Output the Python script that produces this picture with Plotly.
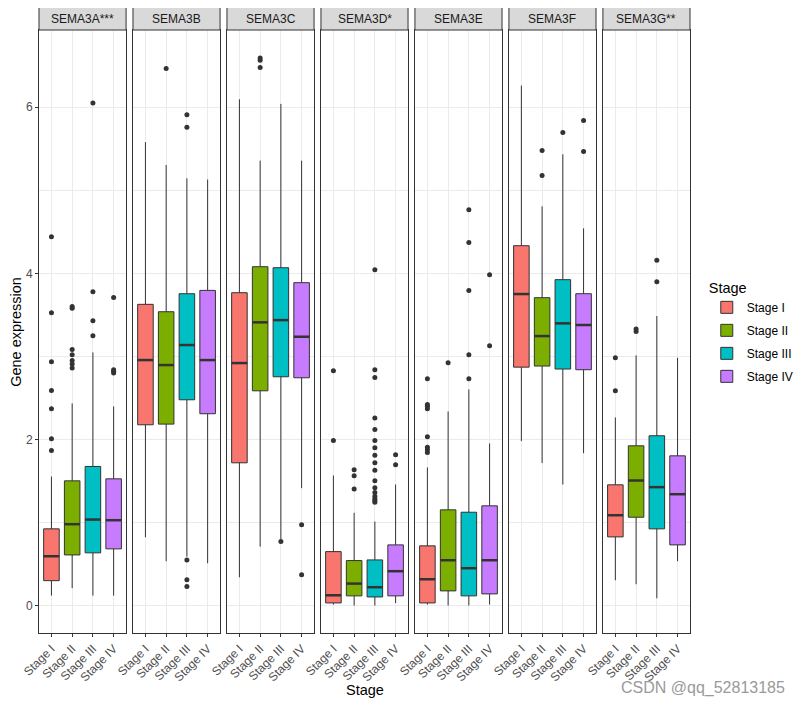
import plotly.graph_objects as go

genes = ["SEMA3A***", "SEMA3B", "SEMA3C", "SEMA3D*", "SEMA3E", "SEMA3F", "SEMA3G**"]
stages = ["Stage I", "Stage II", "Stage III", "Stage IV"]
colors = ["#F8766D", "#7CAE00", "#00BFC4", "#C77CFF"]

# per-gene box statistics (Stage I..IV)
lower = {
    "SEMA3A***": [0.12, 0.21, 0.12, 0.12],
    "SEMA3B": [0.823, 0.534, 0.59, 0.51],
    "SEMA3C": [0.341, 0.71, 0.80, 1.414],
    "SEMA3D*": [0.012, 0.0, 0.0, 0.03],
    "SEMA3E": [0.012, 0.0, 0.0, 0.012],
    "SEMA3F": [1.98, 1.715, 1.458, 1.835],
    "SEMA3G**": [0.305, 0.257, 0.088, 0.534],
}
q1 = {
    "SEMA3A***": [0.30, 0.61, 0.635, 0.683],
    "SEMA3B": [2.177, 2.185, 2.478, 2.31],
    "SEMA3C": [1.719, 2.586, 2.755, 2.743],
    "SEMA3D*": [0.032, 0.117, 0.104, 0.117],
    "SEMA3E": [0.032, 0.177, 0.117, 0.141],
    "SEMA3F": [2.871, 2.884, 2.848, 2.84],
    "SEMA3G**": [0.827, 1.064, 0.924, 0.731],
}
median = {
    "SEMA3A***": [0.594, 0.98, 1.036, 1.028],
    "SEMA3B": [2.956, 2.896, 3.137, 2.956],
    "SEMA3C": [2.92, 3.41, 3.437, 3.237],
    "SEMA3D*": [0.124, 0.265, 0.221, 0.414],
    "SEMA3E": [0.317, 0.546, 0.45, 0.546],
    "SEMA3F": [3.751, 3.245, 3.398, 3.378],
    "SEMA3G**": [1.088, 1.506, 1.426, 1.341],
}
q3 = {
    "SEMA3A***": [0.924, 1.502, 1.675, 1.526],
    "SEMA3B": [3.627, 3.538, 3.755, 3.795],
    "SEMA3C": [3.767, 4.08, 4.068, 3.888],
    "SEMA3D*": [0.65, 0.542, 0.55, 0.731],
    "SEMA3E": [0.719, 1.153, 1.124, 1.201],
    "SEMA3F": [4.333, 3.707, 3.924, 3.755],
    "SEMA3G**": [1.454, 1.924, 2.045, 1.803],
}
upper = {
    "SEMA3A***": [1.554, 2.434, 3.048, 2.398],
    "SEMA3B": [5.58, 5.305, 5.145, 5.13],
    "SEMA3C": [6.096, 5.357, 6.04, 5.357],
    "SEMA3D*": [1.566, 1.117, 1.012, 1.458],
    "SEMA3E": [1.663, 2.337, 2.602, 1.952],
    "SEMA3F": [6.261, 4.807, 5.434, 4.542],
    "SEMA3G**": [2.265, 3.012, 3.486, 2.984],
}
outliers = {
    "SEMA3A***": [[1.867, 2.008, 2.37, 2.59, 2.936, 3.526, 4.44],
                  [2.86, 2.91, 2.95, 3.02, 3.084, 3.58, 3.6],
                  [3.249, 3.43, 3.78, 6.05],
                  [2.80, 2.82, 2.84, 3.71]],
    "SEMA3B": [[], [6.466], [0.23, 0.31, 0.55, 5.76, 5.91], []],
    "SEMA3C": [[], [6.478, 6.566, 6.594], [0.771], [0.37, 0.972]],
    "SEMA3D*": [[1.988, 2.827],
                [1.405, 1.562, 1.635],
                [1.245, 1.265, 1.285, 1.317, 1.361, 1.418, 1.502, 1.63, 1.719,
                 1.811, 1.90, 1.988, 2.12, 2.26, 2.747, 2.84, 4.044],
                [1.695, 1.815]],
    "SEMA3E": [[1.843, 1.876, 1.907, 2.032, 2.37, 2.40, 2.42, 2.731],
               [2.924],
               [2.731, 3.02, 3.795, 4.373, 4.767],
               [3.129, 3.984]],
    "SEMA3F": [[], [5.177, 5.478], [5.695], [5.466, 5.84]],
    "SEMA3G**": [[2.586, 2.984], [3.30, 3.33], [3.9, 4.157], []],
}
y_ticks = [0, 2, 4, 6]

# ---------------- layout geometry ----------------
OFF = 8                      # page body margin offset
W, H = 811 - OFF, 706 - OFF
L, R, T, B = 39 - OFF, 112, 30 - OFF, 73
PW = W - L - R
PH = H - T - B


def fx(sx):   # screen x -> paper fraction
    return (sx - OFF - L) / PW


def fy(sy):   # screen y -> paper fraction
    return 1 - (sy - OFF - T) / PH


gap = 7 / PW
pw = (1 - 6 * gap) / 7
strip_h = 23 / PH
box_w = 0.75
FONT = "Liberation Sans, Arial, sans-serif"

fig = go.Figure()
shapes = []
annotations = []
layout_axes = {}

for i, g in enumerate(genes):
    xa = "x" if i == 0 else f"x{i+1}"
    ya = "y" if i == 0 else f"y{i+1}"
    xkey = "xaxis" if i == 0 else f"xaxis{i+1}"
    ykey = "yaxis" if i == 0 else f"yaxis{i+1}"
    d0 = max(0.0, min(1.0, i * (pw + gap)))
    d1 = max(0.0, min(1.0, i * (pw + gap) + pw))

    for s in range(4):
        fig.add_trace(go.Box(
            x=[s], q1=[q1[g][s]], median=[median[g][s]], q3=[q3[g][s]],
            lowerfence=[lower[g][s]], upperfence=[upper[g][s]],
            width=box_w, fillcolor=colors[s],
            line=dict(color="#333333", width=1), whiskerwidth=0,
            boxpoints=False, name=stages[s], legendgroup=stages[s],
            showlegend=(i == 0), xaxis=xa, yaxis=ya, hoverinfo="skip",
        ))
    # thick median lines
    mx, my = [], []
    for s in range(4):
        mx += [s - box_w / 2, s + box_w / 2, None]
        my += [median[g][s], median[g][s], None]
    fig.add_trace(go.Scatter(x=mx, y=my, mode="lines",
                             line=dict(color="#333333", width=2.5),
                             showlegend=False, hoverinfo="skip",
                             xaxis=xa, yaxis=ya))
    # outliers
    ox, oy = [], []
    for s in range(4):
        ox += [s] * len(outliers[g][s])
        oy += outliers[g][s]
    fig.add_trace(go.Scatter(x=ox, y=oy, mode="markers",
                             marker=dict(color="#333333", size=5),
                             showlegend=False, hoverinfo="skip",
                             xaxis=xa, yaxis=ya))

    layout_axes[xkey] = dict(
        domain=[d0, d1], anchor=ya, range=[-0.6, 3.6],
        tickmode="array", tickvals=[0, 1, 2, 3], ticktext=stages,
        tickangle=-45, tickfont=dict(size=12, color="#4D4D4D", family=FONT),
        ticks="outside", ticklen=3, tickcolor="#333333",
        showgrid=True, gridcolor="#EBEBEB", gridwidth=1,
        showline=True, mirror=True, linecolor="#333333", linewidth=1,
        zeroline=False, fixedrange=True, automargin=False,
    )
    layout_axes[ykey] = dict(
        anchor=xa, range=[-0.33, 6.93],
        tickmode="array", tickvals=y_ticks,
        showticklabels=(i == 0),
        ticks="outside" if i == 0 else "", ticklen=3, tickcolor="#333333",
        tickfont=dict(size=12, color="#4D4D4D", family=FONT),
        showgrid=True, gridcolor="#EBEBEB", gridwidth=1,
        minor=dict(tickvals=[1, 3, 5], showgrid=True, gridcolor="#EBEBEB",
                   gridwidth=0.6, ticks=""),
        showline=True, mirror=True, linecolor="#333333", linewidth=1,
        zeroline=False, automargin=False,
    )
    if i > 0:
        layout_axes[ykey]["matches"] = "y"

    shapes.append(dict(type="rect", xref="paper", yref="paper",
                       x0=d0, x1=d1, y0=1, y1=1 + strip_h,
                       fillcolor="#D9D9D9", line=dict(color="#333333", width=1)))
    annotations.append(dict(text=g, xref="paper", yref="paper",
                            x=(d0 + d1) / 2, y=1 + strip_h / 2,
                            showarrow=False, xanchor="center", yanchor="middle",
                            font=dict(size=12, color="#1A1A1A", family=FONT)))

annotations.append(dict(text="Gene expression", xref="paper", yref="paper",
                        x=fx(15), y=0.5, textangle=-90, showarrow=False,
                        xanchor="center", yanchor="middle",
                        font=dict(size=14.5, color="black", family=FONT)))
annotations.append(dict(text="Stage", xref="paper", yref="paper",
                        x=0.5, y=fy(690), showarrow=False,
                        xanchor="center", yanchor="middle",
                        font=dict(size=14.5, color="black", family=FONT)))
annotations.append(dict(text="CSDN @qq_52813185", xref="paper", yref="paper",
                        x=fx(797), y=fy(688), showarrow=False,
                        xanchor="right", yanchor="middle",
                        font=dict(size=16, color="#9A9A9A", family=FONT)))

fig.update_layout(
    width=W, height=H,
    margin=dict(l=L, r=R, t=T, b=B),
    paper_bgcolor="white", plot_bgcolor="white",
    font=dict(family=FONT),
    boxmode="overlay",
    showlegend=True,
    legend=dict(
        title=dict(text="Stage", font=dict(size=14.5, color="black", family=FONT)),
        font=dict(size=12, color="black", family=FONT),
        x=fx(716), xanchor="left",
        y=fy(274), yanchor="top",
        tracegroupgap=4, bgcolor="rgba(0,0,0,0)",
    ),
    shapes=shapes,
    annotations=annotations,
    **layout_axes,
)

fig.write_html("out.html")
